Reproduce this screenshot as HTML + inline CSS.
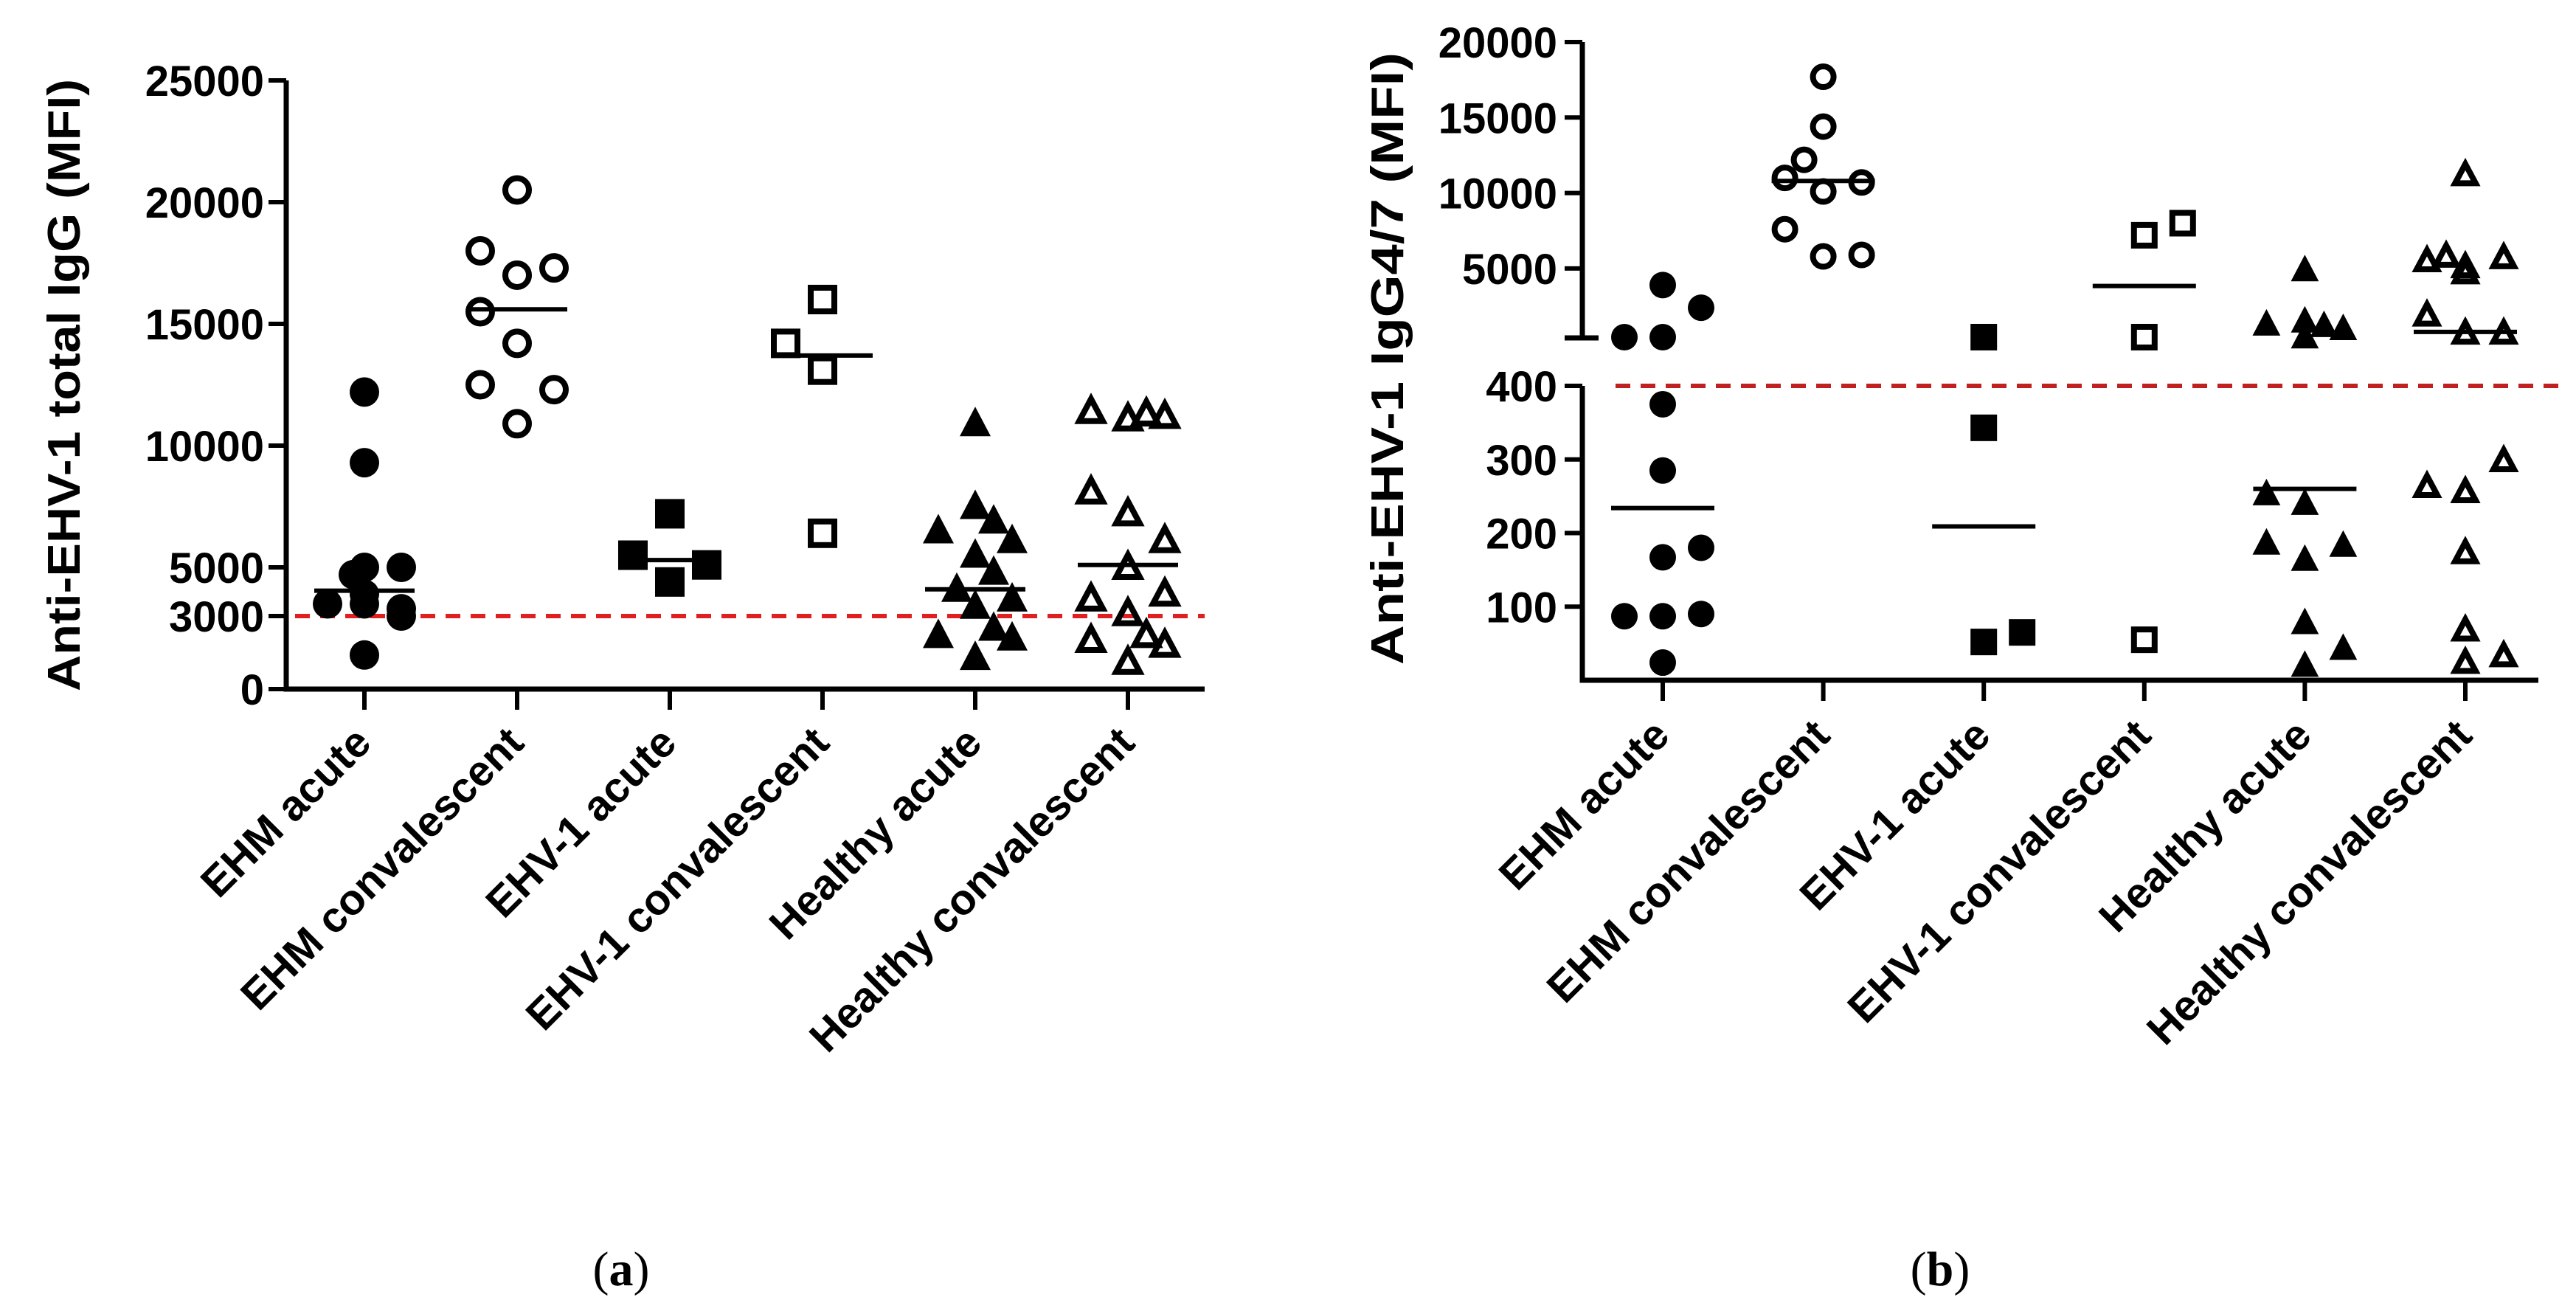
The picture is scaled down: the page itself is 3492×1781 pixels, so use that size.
<!DOCTYPE html>
<html><head><meta charset="utf-8"><style>
html,body{margin:0;padding:0;background:#fff;}
svg{display:block;}
text{font-family:"Liberation Sans",Arial,sans-serif;font-weight:bold;fill:#000;}
</style></head><body>
<svg id="fig" width="3492" height="1781" viewBox="0 0 3492 1781" xmlns="http://www.w3.org/2000/svg">
<rect width="3492" height="1781" fill="#fff"/>
<g id="panelA"></g>
<g id="panelB"></g>
<text x="842" y="1742" text-anchor="middle" style="font-family:'Liberation Serif',serif;font-weight:normal;font-size:66px">(<tspan style="font-weight:bold">a</tspan>)</text>
<text x="2630" y="1742" text-anchor="middle" style="font-family:'Liberation Serif',serif;font-weight:normal;font-size:66px">(<tspan style="font-weight:bold">b</tspan>)</text>
</svg>
<script>
// ---------- data ----------
const categories = ["EHM acute","EHM convalescent","EHV-1 acute","EHV-1 convalescent","Healthy acute","Healthy convalescent"];
const markerTypes = ["fcircle","ocircle","fsquare","osquare","ftri","otri"];

// Panel A: total IgG (MFI)
const aEhmAcute = [12200,9300,5000,5000,4700,3900,3500,3500,3300,3000,1400];
const aEhmConv = [20500,18000,17000,17300,15500,14200,12500,12300,10900];
const aEhv1Acute = [7200,5500,5100,4400];
const aEhv1Conv = [16000,14200,13100,6400];
const aHealthyAcute = [10900,7500,6900,6500,6100,5500,4800,4100,3700,3400,2500,2200,2100,1300];
const aHealthyConv = [11400,11300,11200,11100,8100,7200,6100,5000,3900,3700,3100,2200,2000,1800,1100];
const aMedians = [4040,15600,5300,13700,4100,5100];
const aTicks = [0,3000,5000,10000,15000,20000,25000];
const aCutoff = 3000;
// jitter slots (layout order for points within a column)
const aJitter = [
 [0,0,0,1,-0.3,0,-1,0,1,1,0],
 [0,-1,0,1,-1,0,-1,1,0],
 [0,-1,1,0],
 [0,-1,0,0],
 [0,0,0.5,-1,1,0,0.5,-0.5,1,0,0.5,-1,1,0],
 [-1,0.5,1,0,-1,0,1,0,1,-1,0,0.5,-1,1,0]
];

// Panel B: IgG4/7 (MFI), broken axis
const bEhmAcute = [3900,2400,450,450,375,285,180,167,90,87,87,24];
const bEhmConv = [17700,14400,12200,11000,10700,10100,7600,5800,5900];
const bEhv1Acute = [450,343,52,65];
const bEhv1Conv = [8000,7200,450,55];
const bHealthyAcute = [4900,1300,1500,1200,1000,450,253,240,186,183,164,78,43,20];
const bHealthyConv = [11200,5700,5500,5800,5100,4700,1900,700,700,298,263,256,173,68,33,24];
const bMedians = [234,10800,209,3840,260,800];
const bTicksLow = [100,200,300,400];
const bTicksHigh = [5000,10000,15000,20000];
const bCutoff = 400;
const bJitter = [
 [0,1,-1,0,0,0,1,0,1,-1,0,0],
 [0,0,-0.5,-1,1,0,-1,0,1],
 [0,0,0,1],
 [1,0,0,0],
 [0,-1,0,0.5,1,0,-1,0,-1,1,0,0,1,0],
 [0,1,-1,-0.5,0,0,-1,0,1,1,-1,0,0,0,1,0]
];

// ---------- drawing ----------
const NS = "http://www.w3.org/2000/svg";
function mk(parent, tag, attrs){
  const e = document.createElementNS(NS, tag);
  for (const k in attrs) e.setAttribute(k, attrs[k]);
  parent.appendChild(e);
  return e;
}
function marker(g, type, cx, cy, r){
  let e;
  if (type === "fcircle") e = mk(g,"circle",{cx:cx,cy:cy,r:r,fill:"#000"});
  else if (type === "ocircle") e = mk(g,"circle",{cx:cx,cy:cy,r:r-4,fill:"none",stroke:"#000","stroke-width":8});
  else if (type === "fsquare") e = mk(g,"rect",{x:cx-r,y:cy-r,width:2*r,height:2*r,fill:"#000"});
  else if (type === "osquare") e = mk(g,"rect",{x:cx-r+4,y:cy-r+4,width:2*r-8,height:2*r-8,fill:"none",stroke:"#000","stroke-width":8});
  else if (type === "ftri") e = mk(g,"polygon",{points:`${cx},${cy-r*1.15} ${cx+r*1.05},${cy+r*0.85} ${cx-r*1.05},${cy+r*0.85}`,fill:"#000"});
  else e = mk(g,"polygon",{points:`${cx},${cy-r*1.15+6} ${cx+r*1.05-5},${cy+r*0.85-4} ${cx-r*1.05+5},${cy+r*0.85-4}`,fill:"none",stroke:"#000","stroke-width":8,"stroke-linejoin":"miter"});
  
  
}
function catLabels(g, xs, yTop){
  categories.forEach((c,i)=>{
    const t = mk(g,"text",{x:xs(i)+12,y:yTop,"text-anchor":"end","font-size":58,transform:`rotate(-45 ${xs(i)+12} ${yTop})`});
    t.textContent = c;
    
    
  });
}

// Panel A
(function(){
  const g = document.getElementById("panelA");
  const x0 = 388, xEnd = 1633, y0 = 934, yTop = 109;
  const yA = v => y0 - v*(y0-yTop)/25000;
  const xA = i => 494 + i*207;
  const series = [aEhmAcute,aEhmConv,aEhv1Acute,aEhv1Conv,aHealthyAcute,aHealthyConv];
  const ax = mk(g,"path",{d:`M${x0} ${yTop} V${y0} H${xEnd}`,fill:"none",stroke:"#000","stroke-width":7});
   
  aTicks.forEach(v=>{
    const tk = mk(g,"line",{x1:x0-24,x2:x0,y1:yA(v),y2:yA(v),stroke:"#000","stroke-width":6});
     
    const t = mk(g,"text",{x:x0-30,y:yA(v)+21,"text-anchor":"end","font-size":58});
    t.textContent = v;
     
  });
  categories.forEach((c,i)=>{
    const tk = mk(g,"line",{x1:xA(i),x2:xA(i),y1:y0,y2:y0+28,stroke:"#000","stroke-width":6});
     
  });
  const cl = mk(g,"line",{x1:x0+12,x2:xEnd,y1:yA(aCutoff),y2:yA(aCutoff),stroke:"#e02020","stroke-width":6,"stroke-dasharray":"20 14"});
   
  series.forEach((s,i)=>{
    s.forEach((v,j)=>marker(g, markerTypes[i], xA(i)+aJitter[i][j]*50, yA(v), 20));
    const m = mk(g,"line",{x1:xA(i)-68,x2:xA(i)+68,y1:yA(aMedians[i]),y2:yA(aMedians[i]),stroke:"#000","stroke-width":6});
     
  });
  catLabels(g, xA, 1010);
  const yt = mk(g,"text",{x:0,y:0,"text-anchor":"middle","font-size":62,transform:`translate(108 522) rotate(-90)`,textLength:830,lengthAdjust:"spacingAndGlyphs"});
  yt.textContent = "Anti-EHV-1 total IgG (MFI)";
   
})();

// Panel B
(function(){
  const g = document.getElementById("panelB");
  const x0 = 2145, xEnd = 3441, y0 = 922, yLowTop = 523, yHighBot = 458, yHighTop = 57;
  const yB = v => v > 400 ? yHighBot - (v-400)*(yHighBot-yHighTop)/19600 : y0 - v*(y0-yLowTop)/400;
  const xB = i => 2254 + i*217.6;
  const series = [bEhmAcute,bEhmConv,bEhv1Acute,bEhv1Conv,bHealthyAcute,bHealthyConv];
  const a1 = mk(g,"path",{d:`M${x0} ${yHighTop} V${yHighBot} M${x0-24} ${yHighBot} H${x0+22}`,fill:"none",stroke:"#000","stroke-width":7});
   
  const a2 = mk(g,"path",{d:`M${x0} ${yLowTop} V${y0} H${xEnd}`,fill:"none",stroke:"#000","stroke-width":7});
   
  bTicksLow.concat(bTicksHigh).forEach(v=>{
    const tk = mk(g,"line",{x1:x0-24,x2:x0,y1:yB(v),y2:yB(v),stroke:"#000","stroke-width":6});
     
    const t = mk(g,"text",{x:x0-34,y:yB(v)+21,"text-anchor":"end","font-size":58});
    t.textContent = v;
     
  });
  categories.forEach((c,i)=>{
    const tk = mk(g,"line",{x1:xB(i),x2:xB(i),y1:y0,y2:y0+28,stroke:"#000","stroke-width":6});
     
  });
  const cl = mk(g,"line",{x1:x0+45,x2:3470,y1:yB(bCutoff),y2:yB(bCutoff),stroke:"#c02020","stroke-width":6,"stroke-dasharray":"20 14"});
   
  series.forEach((s,i)=>{
    s.forEach((v,j)=>marker(g, markerTypes[i], xB(i)+bJitter[i][j]*52, yB(v), 18));
    const m = mk(g,"line",{x1:xB(i)-70,x2:xB(i)+70,y1:yB(bMedians[i]),y2:yB(bMedians[i]),stroke:"#000","stroke-width":6});
     
  });
  catLabels(g, xB, 1000);
  const yt = mk(g,"text",{x:0,y:0,"text-anchor":"middle","font-size":62,transform:`translate(1902 486) rotate(-90)`,textLength:830,lengthAdjust:"spacingAndGlyphs"});
  yt.textContent = "Anti-EHV-1 IgG4/7 (MFI)";
   
})();
</script>
</body></html>
